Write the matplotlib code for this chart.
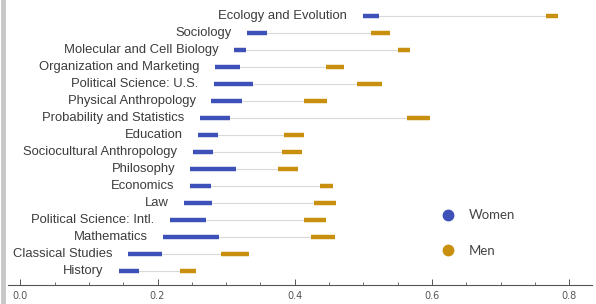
import matplotlib.pyplot as plt
from matplotlib.lines import Line2D

# fields, top to bottom
fields = ["Ecology and Evolution", "Sociology", "Molecular and Cell Biology",
          "Organization and Marketing", "Political Science: U.S.",
          "Physical Anthropology", "Probability and Statistics", "Education",
          "Sociocultural Anthropology", "Philosophy", "Economics", "Law",
          "Political Science: Intl.", "Mathematics", "Classical Studies", "History"]

women_lo = [0.499, 0.330, 0.312, 0.283, 0.282, 0.278, 0.262, 0.259,
            0.251, 0.248, 0.247, 0.239, 0.218, 0.208, 0.157, 0.144]
women_hi = [0.522, 0.359, 0.329, 0.320, 0.339, 0.323, 0.306, 0.288,
            0.281, 0.314, 0.278, 0.280, 0.270, 0.290, 0.207, 0.173]
men_lo = [0.766, 0.511, 0.551, 0.445, 0.491, 0.413, 0.563, 0.384,
          0.382, 0.375, 0.437, 0.428, 0.413, 0.424, 0.293, 0.233]
men_hi = [0.784, 0.538, 0.568, 0.472, 0.527, 0.447, 0.597, 0.414,
          0.411, 0.404, 0.456, 0.460, 0.445, 0.458, 0.333, 0.256]

BLUE = '#3d51b8'
GOLD = '#c8900e'

fig = plt.figure(figsize=(5.96, 3.04), dpi=100)
ax = fig.add_axes([8 / 596, 19 / 304, 584 / 596, 285 / 304])

for i, name in enumerate(fields):
    ax.plot([women_hi[i], men_lo[i]], [i, i], color='#d9d9d9', lw=0.8, zorder=1)
    ax.plot([women_lo[i], women_hi[i]], [i, i], color=BLUE, lw=3.2,
            solid_capstyle='butt', zorder=2)
    ax.plot([men_lo[i], men_hi[i]], [i, i], color=GOLD, lw=3.2,
            solid_capstyle='butt', zorder=2)
    ax.text(women_lo[i] - 0.0225, i, name, ha='right', va='center',
            fontsize=9.4, color='#3c3c3c', family='Liberation Sans')

ax.set_xlim((8 - 20.3) / 686.25, (592 - 20.3) / 686.25)
ax.set_ylim((285 - 16) / 17, -16 / 17)

for s in ['top', 'right', 'left']:
    ax.spines[s].set_visible(False)
ax.spines['bottom'].set_color('#555555')
ax.spines['bottom'].set_linewidth(0.8)
ax.set_yticks([])
ax.set_xticks([0.0, 0.2, 0.4, 0.6, 0.8])
ax.set_xticks([0.05 * k for k in range(17) if k % 4], minor=True)
ax.set_xticklabels(['0.0', '0.2', '0.4', '0.6', '0.8'])
ax.tick_params(axis='x', direction='in', length=4, width=0.7, color='#555555',
               labelsize=7, labelcolor='#555555', pad=4)
ax.tick_params(axis='x', which='minor', direction='in', length=2, width=0.6,
               color='#555555')

# legend
handles = [Line2D([], [], marker='o', ls='', color=BLUE, markersize=7.5),
           Line2D([], [], marker='o', ls='', color=GOLD, markersize=7.5)]
fig.legend(handles, ['Women', 'Men'], loc='center left',
           bbox_to_anchor=(423 / 596, 1 - 233 / 304), frameon=False,
           labelspacing=1.75, handletextpad=0.6, prop={'family': 'Lato', 'size': 9.5},
           labelcolor='#444444')

# left frame strip
fig.add_artist(Line2D([2.5 / 596, 2.5 / 596], [0, 1], color='#c8c8c8', lw=3.5))

fig.savefig('out.png', dpi=100)
